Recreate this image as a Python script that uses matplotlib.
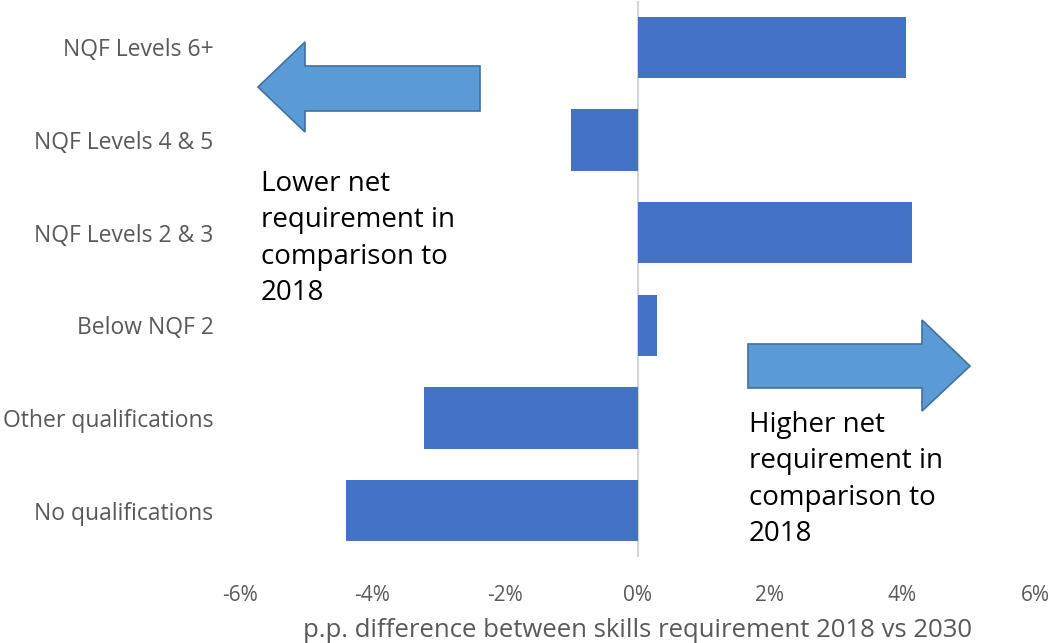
import matplotlib.pyplot as plt
from matplotlib.patches import Polygon
from matplotlib.ticker import FuncFormatter

# --- data ---
categories = ['NQF Levels 6+', 'NQF Levels 4 & 5', 'NQF Levels 2 & 3',
              'Below NQF 2', 'Other qualifications', 'No qualifications']
pp_diff = [4.05, -1.0, 4.15, 0.3, -3.23, -4.4]   # percentage points
x_ticks = [-6, -4, -2, 0, 2, 4, 6]

bar_color = '#4472C4'
arrow_face = '#5B9BD5'
arrow_edge = '#41719C'
grey = '#595959'

plt.rcParams['font.family'] = ['Open Sans', 'DejaVu Sans']

W, H = 1053, 643
fig = plt.figure(figsize=(W / 100, H / 100), dpi=100)
ax = fig.add_axes([240 / W, (H - 557) / H, (1035 - 240) / W, 556 / H])

y = list(range(len(categories)))
ax.barh(y, pp_diff, height=0.66, color=bar_color, zorder=2)
ax.axvline(0, color='#D0D0D0', lw=1.3, zorder=1)

ax.set_xlim(-6, 6)
ax.set_ylim(len(categories) - 0.5, -0.5)
ax.set_xticks(x_ticks)
ax.xaxis.set_major_formatter(FuncFormatter(lambda v, _: f'{v:.0f}%'))
ax.set_yticks(y)
ax.set_yticklabels(categories)
ax.tick_params(axis='both', length=0, colors=grey)
ax.tick_params(axis='y', pad=19, labelsize=16.5)
ax.tick_params(axis='x', pad=20, labelsize=15)
for s in ax.spines.values():
    s.set_visible(False)
ax.set_xlabel('p.p. difference between skills requirement 2018 vs 2030',
              fontsize=18.5, color=grey, labelpad=9)


def block_arrow(pts):
    # pts given in pixels from the top-left corner of the figure
    xy = [(px / W, 1 - py / H) for px, py in pts]
    fig.add_artist(Polygon(xy, closed=True, transform=fig.transFigure,
                           facecolor=arrow_face, edgecolor=arrow_edge, lw=1.2))


# left pointing arrow
block_arrow([(258, 87), (305, 42), (305, 66), (480, 66),
             (480, 111), (305, 111), (305, 132)])
# right pointing arrow
block_arrow([(748, 344), (922, 344), (922, 320), (970, 366),
             (922, 411), (922, 388), (748, 388)])

note_kw = dict(fontsize=20, color='black', va='top', ha='left',
               linespacing=1.4, transform=fig.transFigure)
fig.text(261 / W, 1 - 170 / H,
         'Lower net\nrequirement in\ncomparison to\n2018', **note_kw)
fig.text(749 / W, 1 - 411 / H,
         'Higher net\nrequirement in\ncomparison to\n2018', **note_kw)

fig.savefig('out.png', dpi=100)
